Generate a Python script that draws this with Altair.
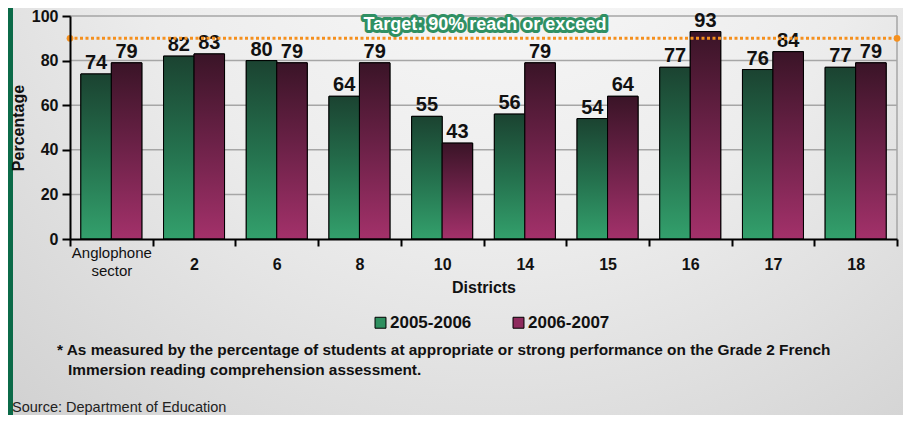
import altair as alt
import pandas as pd

# ---- data ----
districts = ["Anglophone sector", "2", "6", "8", "10", "14", "15", "16", "17", "18"]
years = ["2005-2006", "2006-2007"]
values_0506 = [74, 82, 80, 64, 55, 56, 54, 77, 76, 77]
values_0607 = [79, 83, 79, 79, 43, 79, 64, 93, 84, 79]
y_ticks = [0, 20, 40, 60, 80, 100]
target = 90
target_label = "Target: 90% reach or exceed"
footnote_1 = "* As measured by the percentage of students at appropriate or strong performance on the Grade 2 French"
footnote_2 = "Immersion reading comprehension assessment."
source = "Source: Department of Education"

rows = []
for d, a, b in zip(districts, values_0506, values_0607):
    rows.append({"district": d, "year": years[0], "value": a})
    rows.append({"district": d, "year": years[1], "value": b})
df = pd.DataFrame(rows)
one = pd.DataFrame({"k": [0]})
grid_df = pd.DataFrame({"tick": y_ticks[1:]})
target_df = pd.DataFrame({"t": [target]})

W, H = 827, 223
NARROW = "Liberation Sans Narrow, Arial Narrow, Liberation Sans, sans-serif"
SANS = "Liberation Sans, Arial, sans-serif"
GREEN = "#2e8f5f"
MAROON = "#8e2b5e"
ORANGE = "#f5901e"
IS_ANGLO = "datum.value == 'Anglophone sector'"

grad_green = alt.LinearGradient(
    gradient="linear", x1=0, y1=0, x2=0, y2=1,
    stops=[alt.GradientStop(color="#1b4331", offset=0),
           alt.GradientStop(color="#24704d", offset=0.5),
           alt.GradientStop(color="#33a06c", offset=1)])
grad_maroon = alt.LinearGradient(
    gradient="linear", x1=0, y1=0, x2=0, y2=1,
    stops=[alt.GradientStop(color="#3a1427", offset=0),
           alt.GradientStop(color="#6e2249", offset=0.5),
           alt.GradientStop(color="#a3316a", offset=1)])
grad_bg = alt.RadialGradient(
    gradient="radial", x1=0.55, y1=0.1, r1=0, x2=0.55, y2=0.1, r2=0.95,
    stops=[alt.GradientStop(color="#fbfbfb", offset=0),
           alt.GradientStop(color="#ececec", offset=0.45),
           alt.GradientStop(color="#c9c9c9", offset=1)])

x_enc = alt.X(
    "district:N",
    scale=alt.Scale(domain=districts, paddingInner=0, paddingOuter=0),
    axis=alt.Axis(
        title="Districts", titleFont=SANS, titleFontSize=16, titleFontWeight="bold",
        titleColor="#111", titlePadding=1,
        labelAngle=0, labelColor="#111",
        labelFontSize={"condition": {"test": IS_ANGLO, "value": 15}, "value": 16},
        labelFont={"condition": {"test": IS_ANGLO, "value": SANS}, "value": NARROW},
        labelFontWeight={"condition": {"test": IS_ANGLO, "value": "normal"}, "value": "bold"},
        labelPadding={"condition": {"test": IS_ANGLO, "value": 6}, "value": 18},
        labelExpr="split(datum.label, ' ')", labelBaseline="middle",
        labelLineHeight=18,
        tickBand="extent", tickSize=7, tickColor="black", tickWidth=2,
        domainColor="black", domainWidth=2, grid=False, zindex=1))
xoff = alt.XOffset("year:N", scale=alt.Scale(domain=years, paddingInner=0, paddingOuter=0.356))
y_enc = alt.Y(
    "value:Q",
    scale=alt.Scale(domain=[0, 100], nice=False),
    axis=alt.Axis(
        title="Percentage", titleFont=SANS, titleFontSize=16, titleFontWeight="bold",
        titleColor="#111", titlePadding=5,
        values=y_ticks, labelFont=SANS, labelFontSize=16, labelFontWeight="bold",
        labelColor="#111", labelPadding=4,
        tickSize=8, tickColor="black", tickWidth=2,
        domainColor="black", domainWidth=2, grid=False, zindex=1))

bg = alt.Chart(one).mark_rect(color=grad_bg).encode(
    x=alt.value(-62), x2=alt.value(W + 6), y=alt.value(-8), y2=alt.value(H + 176))
strip = alt.Chart(one).mark_rect(color="#0b6a48").encode(
    x=alt.value(-62), x2=alt.value(-57), y=alt.value(-8), y2=alt.value(H + 176))
grid = alt.Chart(grid_df).mark_rule(color="#a6a6a6", strokeWidth=1.5).encode(
    y=alt.Y("tick:Q", scale=alt.Scale(domain=[0, 100], nice=False)))
frame = alt.Chart(one).mark_rule(color="#a6a6a6", strokeWidth=1.5).encode(
    x=alt.value(W), y=alt.value(0), y2=alt.value(H))

bars = alt.Chart(df).mark_bar(stroke="black", strokeWidth=1).encode(
    x=x_enc, xOffset=xoff, y=y_enc,
    color=alt.Color("year:N", scale=alt.Scale(domain=years, range=[GREEN, MAROON]),
                    legend=alt.Legend(
                        title=None, orient="none", legendX=302, legendY=298,
                        direction="horizontal", symbolType="square", symbolSize=120,
                        symbolStrokeColor="black", symbolStrokeWidth=1,
                        labelFont=NARROW, labelFontSize=17, labelFontWeight="bold",
                        labelColor="#111", labelOffset=1, columnPadding=38)))
bars_g = alt.Chart(df).transform_filter(alt.datum.year == years[0]).mark_bar(
    color=grad_green, stroke="black", strokeWidth=1).encode(x=x_enc, xOffset=xoff, y=y_enc)
bars_m = alt.Chart(df).transform_filter(alt.datum.year == years[1]).mark_bar(
    color=grad_maroon, stroke="black", strokeWidth=1).encode(x=x_enc, xOffset=xoff, y=y_enc)

labels = alt.Chart(df).mark_text(
    baseline="bottom", dy=-1, font=NARROW, fontSize=20, fontWeight="bold", color="#111"
).encode(x=x_enc, xOffset=xoff, y=y_enc, text="value:Q")

tline = alt.Chart(target_df).mark_rule(color=ORANGE, strokeWidth=3, strokeDash=[3, 2.5]).encode(
    y=alt.Y("t:Q", scale=alt.Scale(domain=[0, 100], nice=False)))
dot_l = alt.Chart(target_df).mark_circle(color=ORANGE, size=45, opacity=1).encode(
    x=alt.value(0), y=alt.Y("t:Q"))
dot_r = alt.Chart(target_df).mark_circle(color=ORANGE, size=45, opacity=1).encode(
    x=alt.value(W), y=alt.Y("t:Q"))
ttext_s = alt.Chart(target_df).mark_text(
    text=target_label, font=SANS, fontSize=18, fontWeight="bold", dy=-13,
    fill="#2f9063", stroke="#2f9063", strokeWidth=6, strokeJoin="round"
).encode(x=alt.value(415), y=alt.Y("t:Q"))
ttext_f = alt.Chart(target_df).mark_text(
    text=target_label, font=SANS, fontSize=18, fontWeight="bold", dy=-13, fill="white"
).encode(x=alt.value(415), y=alt.Y("t:Q"))

fn1 = alt.Chart(one).mark_text(
    text=footnote_1, align="left", baseline="middle", font=NARROW, fontSize=15.4,
    fontWeight="bold", color="#111").encode(x=alt.value(-13), y=alt.value(334))
fn2 = alt.Chart(one).mark_text(
    text=footnote_2, align="left", baseline="middle", font=NARROW, fontSize=15.4,
    fontWeight="bold", color="#111").encode(x=alt.value(-2), y=alt.value(354))
src = alt.Chart(one).mark_text(
    text=source, align="left", baseline="middle", font=NARROW, fontSize=14.5,
    color="#222").encode(x=alt.value(-58), y=alt.value(392))

chart = alt.layer(
    bg, strip, grid, frame, bars, bars_g, bars_m, labels,
    tline, dot_l, dot_r, ttext_s, ttext_f, fn1, fn2, src
).properties(
    width=W, height=H,
    autosize=alt.AutoSizeParams(type="none"),
    padding={"left": 62, "top": 8, "right": 6, "bottom": 176},
).configure_view(stroke=None).configure(background="#d4d4d4")

chart.save("out.html", embed_options={"renderer": "svg", "actions": False})
